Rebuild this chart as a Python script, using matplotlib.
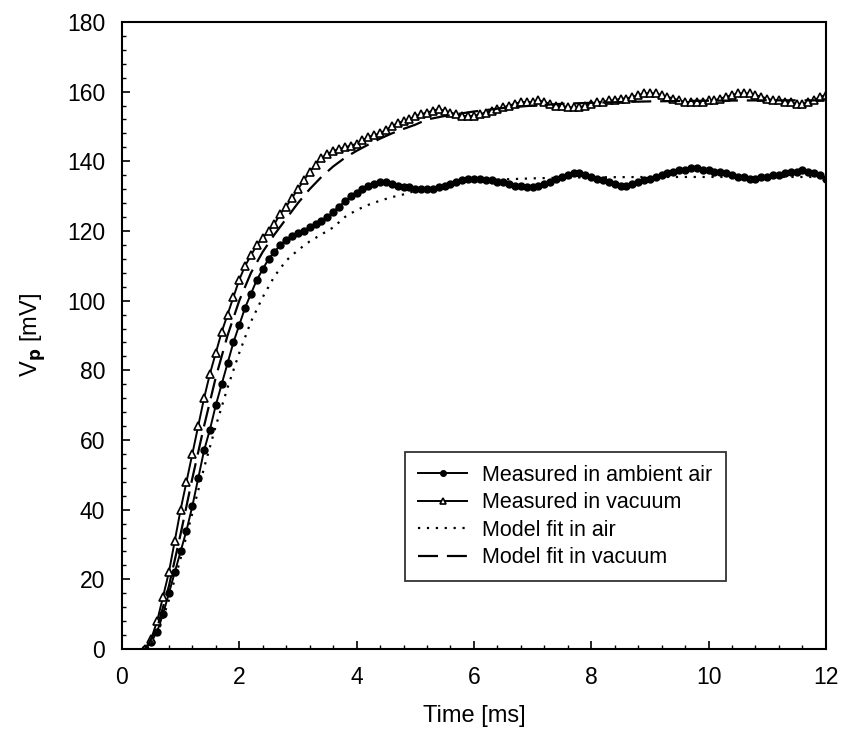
import numpy as np
import matplotlib.pyplot as plt
from matplotlib.ticker import MultipleLocator

plt.rcParams['font.family'] = ['Liberation Sans', 'DejaVu Sans']

# measured data, 0.1 ms steps from 0.4 to 12.0 ms
t_meas = np.round(np.arange(0.4, 12.05, 0.1), 2)
v_vac = [0, 3, 8, 15, 22, 31, 40, 48, 56, 64, 72, 79, 85, 91, 96, 101, 106, 110, 113, 116,
         118, 120, 122, 125, 127, 129.5, 132, 134.5, 137, 139, 141, 142, 143, 143.5, 144, 144.5,
         145, 146, 147, 147.5, 148, 149, 150, 151, 151.5, 152, 153, 153.5, 154, 154.5, 155,
         154.5, 154, 153.5, 153, 153, 153, 153.5, 154, 154.5, 155, 155.5, 156, 156.5, 157,
         157, 157, 157.5, 157, 156.5, 156, 156, 155.5, 155.5, 155.5, 156, 156.5, 157, 157,
         157.5, 157.5, 158, 158, 158.5, 159, 159.5, 159.5, 159.5, 159, 158.5, 158, 157.5, 157,
         157, 157, 157, 157.5, 157.5, 158, 158.5, 159, 159.5, 159.5, 159.5, 159, 158.5, 158,
         157.5, 157.5, 157, 157, 156.5, 156.5, 157, 157.5, 158.5, 159]
v_air = [0, 2, 5, 10, 16, 22, 28, 34, 41, 49, 57, 63, 70, 76, 82, 88, 93, 98, 102, 106,
         109, 112, 114, 116, 117.5, 118.5, 119.5, 120, 121, 122, 123, 124, 125.5, 127, 128.5,
         130, 131, 132, 133, 133.5, 134, 134, 133.5, 133, 132.5, 132.5, 132, 132, 132, 132,
         132.5, 133, 133.5, 134, 134.5, 135, 135, 135, 134.5, 134.5, 134, 134, 133.5, 133,
         133, 132.5, 132.5, 133, 133.5, 134, 135, 135.5, 136, 136.5, 136.5, 136, 135.5, 135,
         134.5, 134, 133.5, 133, 133, 133.5, 134, 134.5, 135, 135.5, 136, 136.5, 137, 137.5,
         137.5, 138, 138, 137.5, 137.5, 137, 137, 136.5, 136, 135.5, 135.5, 135, 135, 135.5,
         135.5, 136, 136, 136.5, 137, 137, 137.5, 137, 136.5, 136, 135]

# model fits
t_fit = [0.4, 0.6, 0.8, 1.0, 1.2, 1.4, 1.6, 1.8, 2.0, 2.2, 2.4, 2.6, 2.8, 3.0, 3.2, 3.4,
         3.6, 3.8, 4.0, 4.2, 4.4, 4.6, 4.8, 5.0, 5.2, 5.5, 6.0, 6.5, 7.0, 7.5, 8.0, 9.0,
         10.0, 11.0, 12.0]
fit_air = [0, 4, 14, 26, 39, 52, 64, 75, 85, 94, 101, 107, 111.5, 114.5, 117, 119, 121,
           124, 126, 127.5, 128.7, 129.7, 130.5, 131.5, 132.2, 133.3, 134.3, 134.8, 135.1,
           135.3, 135.4, 135.5, 135.5, 135.5, 135.5]
fit_vac = [0, 6, 18, 33, 49, 64, 78, 90, 100, 108, 114, 119, 123.5, 128, 132, 135.5, 138.5,
           141, 143, 144.8, 146.5, 148, 149.3, 150.5, 152, 153, 154.3, 155.3, 156, 156.5,
           156.8, 157.2, 157.4, 157.5, 157.5]

fig = plt.figure(figsize=(8.41, 7.32), dpi=100)
ax = fig.add_axes([0.145, 0.1134, 0.837, 0.8566])

ax.plot(t_meas, v_air, '-', color='black', lw=1.4, marker='o', ms=5,
        mfc='black', mec='black', label='Measured in ambient air')
ax.plot(t_meas, v_vac, '-', color='black', lw=1.4, marker='^', ms=6,
        mfc='white', mec='black', mew=1.2, label='Measured in vacuum')
ax.plot(t_fit, fit_air, color='black', lw=1.6, ls=(0, (1, 3)), label='Model fit in air')
ax.plot(t_fit, fit_vac, color='black', lw=1.6, ls=(0, (9, 4)), label='Model fit in vacuum')

ax.set_xlim(0, 12)
ax.set_ylim(0, 180)
ax.xaxis.set_major_locator(MultipleLocator(2))
ax.xaxis.set_minor_locator(MultipleLocator(0.4))
ax.yaxis.set_major_locator(MultipleLocator(20))
ax.yaxis.set_minor_locator(MultipleLocator(4))
ax.tick_params(which='major', direction='in', length=6, width=1.2, labelsize=16.5, pad=12)
ax.tick_params(which='minor', direction='in', length=3, width=1)
for s in ax.spines.values():
    s.set_linewidth(1.5)

ax.set_xlabel('Time [ms]', fontsize=17, labelpad=12)
ax.set_ylabel('V$_\\mathbf{p}$ [mV]', fontsize=17, labelpad=14)

leg = ax.legend(loc='upper left', bbox_to_anchor=(0.402, 0.314), borderaxespad=0,
                fontsize=15.5, frameon=True, fancybox=False, edgecolor='black',
                handlelength=2.3, handletextpad=0.7, labelspacing=0.3, borderpad=0.6,
                markerscale=0.8)
leg.get_frame().set_linewidth(1.3)

plt.savefig('out.png', dpi=100)
